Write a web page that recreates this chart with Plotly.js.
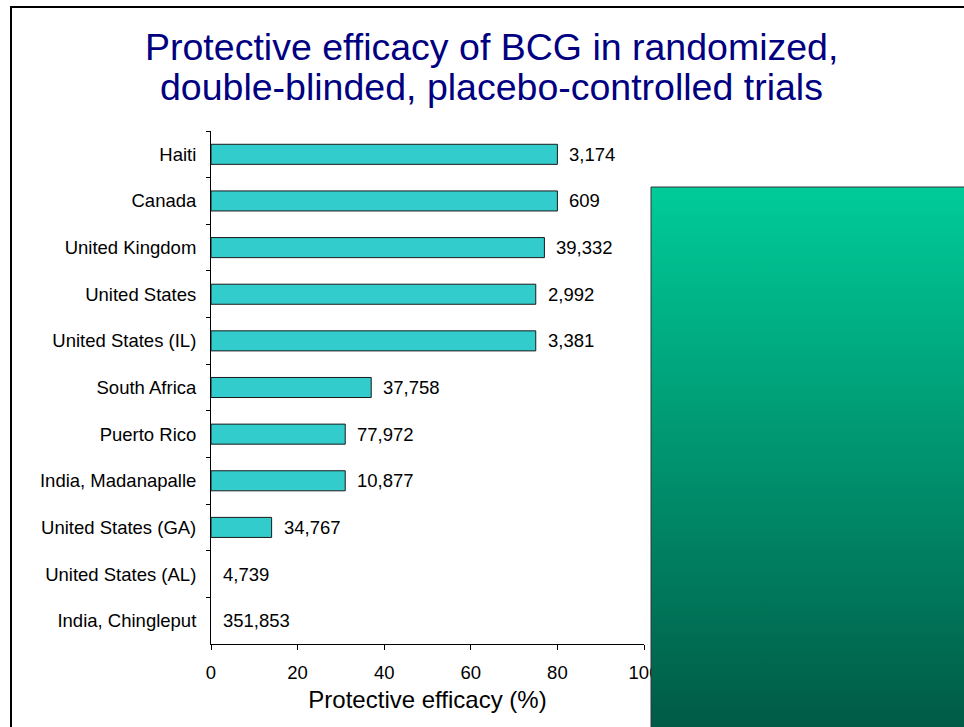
<!DOCTYPE html>
<html>
<head>
<meta charset="utf-8">
<script src="https://cdn.plot.ly/plotly-3.0.1.min.js"></script>
<style>
html,body{margin:0;padding:0;background:#fff;}
#chart{width:964px;height:727px;}
</style>
</head>
<body>
<div id="chart"></div>
<script>
// ---- data (top to bottom) ----
var countries = ["Haiti", "Canada", "United Kingdom", "United States", "United States (IL)",
  "South Africa", "Puerto Rico", "India, Madanapalle", "United States (GA)",
  "United States (AL)", "India, Chingleput"];
var efficacy = [80, 80, 77, 75, 75, 37, 31, 31, 14, 0, 0];
var participants = ["3,174", "609", "39,332", "2,992", "3,381", "37,758", "77,972",
  "10,877", "34,767", "4,739", "351,853"];
var xTickValues = [0, 20, 40, 60, 80, 100];
var titleLines = ["Protective efficacy of BCG in randomized,",
  "double-blinded, placebo-controlled trials"];
var xTitle = "Protective efficacy (%)";

var FONT = "Arial, 'Liberation Sans', sans-serif";

var trace = {
  type: "bar",
  orientation: "h",
  x: efficacy,
  y: countries,
  marker: {
    color: "#33CCCC",
    line: {color: "#1a1a1a", width: efficacy.map(function (v) { return v > 0 ? 1 : 0; })}
  },
  hoverinfo: "x+y",
  showlegend: false
};

var annotations = [];
for (var i = 0; i < countries.length; i++) {
  annotations.push({
    x: efficacy[i], y: countries[i], xref: "x", yref: "y",
    text: participants[i], showarrow: false,
    xanchor: "left", yanchor: "middle", xshift: 10,
    font: {family: FONT, size: 18.5, color: "#000"}
  });
}
var titleY = [1.1647, 1.0867];
for (var j = 0; j < titleLines.length; j++) {
  annotations.push({
    x: 0.6467, y: titleY[j], xref: "paper", yref: "paper",
    text: titleLines[j], showarrow: false,
    xanchor: "center", yanchor: "middle",
    font: {family: FONT, size: 37.5, color: "#000080"}
  });
}

var gradSvg = "<svg xmlns='http://www.w3.org/2000/svg' width='100' height='100' preserveAspectRatio='none'>" +
  "<defs><linearGradient id='g' x1='0' y1='0' x2='0' y2='1'>" +
  "<stop offset='0' stop-color='#00CC99'/><stop offset='1' stop-color='#005A45'/>" +
  "</linearGradient></defs><rect width='100' height='100' fill='url(#g)'/></svg>";

var layout = {
  width: 964, height: 727,
  margin: {l: 211, r: 320, t: 131, b: 83, pad: 0},
  paper_bgcolor: "#ffffff", plot_bgcolor: "#ffffff",
  font: {family: FONT, color: "#000"},
  bargap: 0.57,
  xaxis: {
    range: [0, 100], tickvals: xTickValues, ticktext: xTickValues.map(String),
    showgrid: false, zeroline: false, showline: true, linecolor: "#000", linewidth: 1,
    ticks: "outside", ticklen: 5, tickcolor: "#000", tickwidth: 1,
    ticklabelstandoff: 7,
    tickfont: {family: FONT, size: 18.5, color: "#000"},
    title: {text: xTitle, font: {family: FONT, size: 24, color: "#000"}, standoff: 8},
    fixedrange: true
  },
  yaxis: {
    type: "category", autorange: "reversed",
    showgrid: false, zeroline: false, showline: true, linecolor: "#000", linewidth: 1,
    ticks: "outside", tickson: "boundaries", ticklen: 4, tickcolor: "#000", tickwidth: 1,
    ticklabelstandoff: 10,
    tickfont: {family: FONT, size: 18.5, color: "#000"},
    fixedrange: true
  },
  annotations: annotations,
  images: [{
    source: "data:image/svg+xml;charset=utf-8," + encodeURIComponent(gradSvg),
    xref: "paper", yref: "paper", x: 1.0162, y: 0.8908,
    sizex: 0.73, sizey: 1.06, sizing: "stretch",
    xanchor: "left", yanchor: "top", layer: "above"
  }],
  shapes: [
    {type: "rect", xref: "paper", yref: "paper", x0: 1.0162, x1: 1.9, y0: -0.3, y1: 0.8908,
      line: {color: "#333333", width: 1}, fillcolor: "rgba(0,0,0,0)", layer: "above"},
    {type: "rect", xref: "paper", yref: "paper", x0: -0.4619, x1: 1.9, y0: -0.4, y1: 1.2417,
      line: {color: "#000000", width: 2}, fillcolor: "rgba(0,0,0,0)", layer: "above"}
  ]
};

Plotly.newPlot("chart", [trace], layout, {displayModeBar: false, staticPlot: true});
</script>
</body>
</html>
